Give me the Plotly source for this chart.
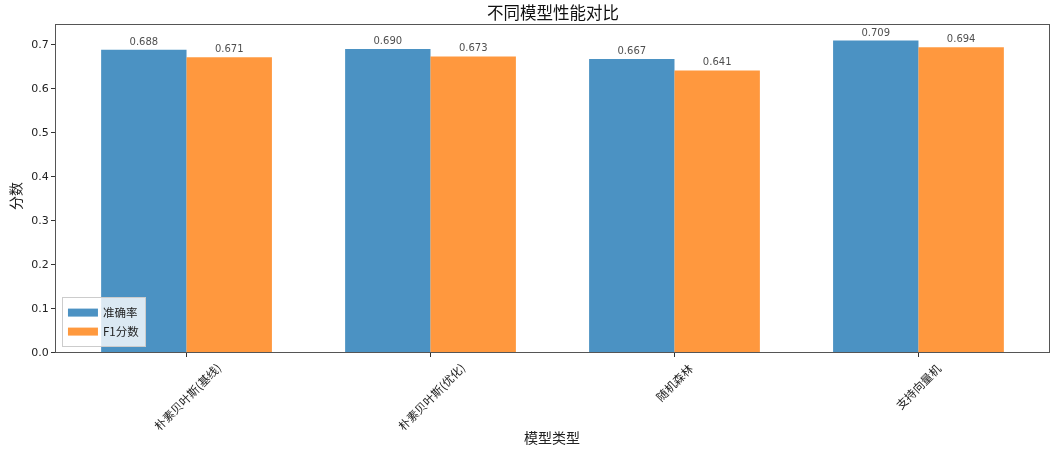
import plotly.graph_objects as go

models = ["朴素贝叶斯(基线)", "朴素贝叶斯(优化)", "随机森林", "支持向量机"]
accuracy = [0.688, 0.690, 0.667, 0.709]
f1 = [0.671, 0.673, 0.641, 0.694]
series_names = ["准确率", "F1分数"]
title = "不同模型性能对比"
x_title = "模型类型"
y_title = "分数"

FONT = "DejaVu Sans, Noto Sans CJK SC, sans-serif"
CJK = "Noto Sans CJK SC, DejaVu Sans, sans-serif"
COLORS = ["#1f77b4", "#ff7f0e"]
idx = list(range(len(models)))
w = 0.35

W, H = 1059, 450
L, R, T, B = 56, 10, 25, 98
pw, ph = W - L - R, H - T - B


def px_to_paper(px, py):
    return (px - L) / pw, (H - py - B) / ph


fig = go.Figure()
for k, (vals, off) in enumerate([(accuracy, -w / 2), (f1, w / 2)]):
    fig.add_trace(go.Bar(
        x=[i + off for i in idx], y=vals, width=w, name=series_names[k],
        marker=dict(color=COLORS[k], line=dict(width=0)), opacity=0.8,
        text=[f"{v:.3f}" for v in vals], textposition="outside",
        textfont=dict(size=10, color="#222", family=FONT), cliponaxis=False,
        showlegend=False, hoverinfo="skip",
    ))
# legend entries drawn as wide patches
for k in range(2):
    fig.add_trace(go.Scatter(
        x=[None], y=[None], mode="lines", name=series_names[k],
        line=dict(color=COLORS[k], width=8), opacity=0.8, showlegend=True,
    ))

for i, m in zip(idx, models):
    fig.add_annotation(x=i, y=0, xref="x", yref="paper", text=m, showarrow=False,
                       textangle=-45, xanchor="center", yanchor="top", yshift=-5,
                       font=dict(size=11.5, color="#222", family=CJK))

ax, ay = px_to_paper(552, 437)
fig.add_annotation(x=ax, y=ay, xref="paper", yref="paper", text=x_title, showarrow=False,
                   font=dict(size=14, color="#222", family=CJK), xanchor="center", yanchor="middle")
ax, ay = px_to_paper(15, 196)
fig.add_annotation(x=ax, y=ay, xref="paper", yref="paper", text=y_title, showarrow=False,
                   textangle=-90, font=dict(size=14, color="#222", family=CJK),
                   xanchor="center", yanchor="middle")
ax, ay = px_to_paper(553, 12)
fig.add_annotation(x=ax, y=ay, xref="paper", yref="paper", text=title, showarrow=False,
                   font=dict(size=16.5, color="#111", family=CJK), xanchor="center", yanchor="middle")

fig.update_layout(
    width=W, height=H,
    margin=dict(l=L, r=R, t=T, b=B, autoexpand=False),
    paper_bgcolor="white", plot_bgcolor="white",
    font=dict(family=FONT, color="#222", size=12),
    showlegend=True,
    legend=dict(x=0.006, y=0.015, xanchor="left", yanchor="bottom",
                bgcolor="rgba(255,255,255,0.8)", bordercolor="#cccccc", borderwidth=1,
                font=dict(size=11.5, family=CJK), tracegroupgap=0, itemwidth=30),
    hovermode=False,
)
fig.update_xaxes(
    range=[-0.535, 3.535], tickmode="array", tickvals=idx, ticktext=[""] * len(idx),
    ticks="outside", ticklen=4, tickcolor="#333", showgrid=False, zeroline=False,
    showline=True, linecolor="#555", linewidth=1, mirror=True, automargin=False,
)
fig.update_yaxes(
    range=[0, 0.74445], tickmode="array", tickvals=[0, 0.1, 0.2, 0.3, 0.4, 0.5, 0.6, 0.7],
    ticktext=["0.0", "0.1", "0.2", "0.3", "0.4", "0.5", "0.6", "0.7"],
    ticks="outside", ticklen=4, tickcolor="#333", showgrid=False, zeroline=False,
    showline=True, linecolor="#555", linewidth=1, mirror=True, automargin=False,
    tickfont=dict(size=11),
)

fig.write_html("out.html", config={"displayModeBar": False},
               post_script="document.body.style.margin='0';document.body.style.overflow='hidden';")
